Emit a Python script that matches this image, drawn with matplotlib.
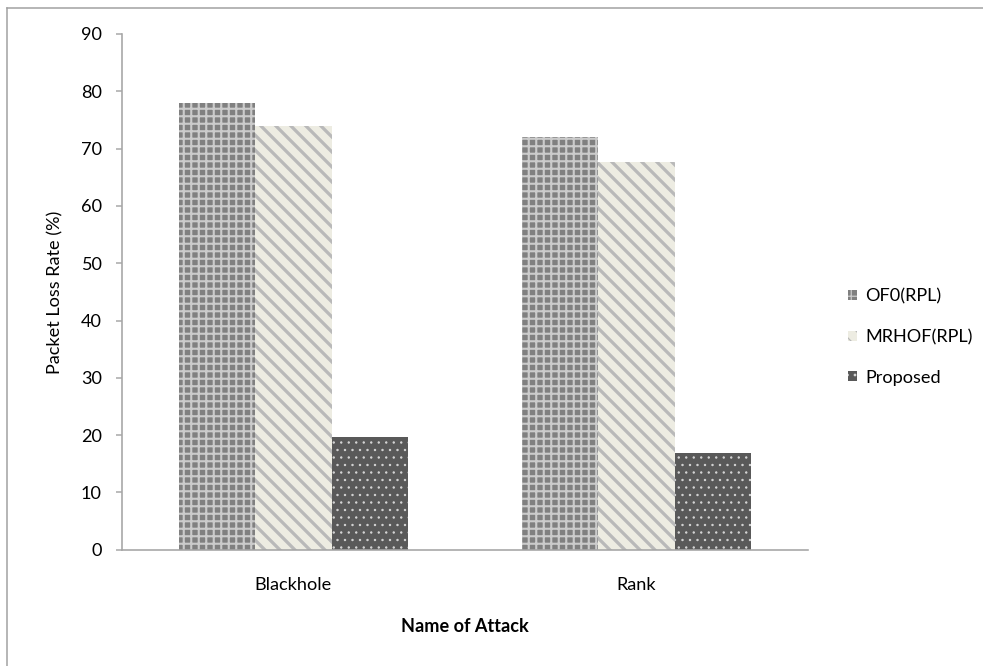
import matplotlib
matplotlib.use("Agg")
import matplotlib.pyplot as plt
import numpy as np
from matplotlib.lines import Line2D

categories = ["Blackhole", "Rank"]
series_names = ["OF0(RPL)", "MRHOF(RPL)", "Proposed"]
of0 = [78, 72]
mrhof = [74, 67.6]
proposed = [19.7, 16.9]
yticks = [0, 10, 20, 30, 40, 50, 60, 70, 80, 90]

plt.rcParams['font.family'] = ['Lato', 'DejaVu Sans']

DPI = 90
W, H = 983, 666
fig = plt.figure(figsize=(W / DPI, H / DPI), dpi=DPI)
fig.patch.set_facecolor('white')

ax_left, ax_right, ax_bottom, ax_top = 122, 808, 549.7, 34
ax = fig.add_axes([ax_left / W, 1 - ax_bottom / H, (ax_right - ax_left) / W,
                   (ax_bottom - ax_top) / H])

styles = [
    dict(facecolor='#808080', hatch='++', hcolor='#cbcbcb', hlw=1.7),
    dict(facecolor='#edece2', hatch='\\\\', hcolor='#b9b9b9', hlw=2.6),
    dict(facecolor='#595959', hatch='..', hcolor='#d6d6d6', hlw=0.7),
]
values = [of0, mrhof, proposed]
x = np.arange(len(categories))
bw = 0.222
handles = []
for i, (vals, st) in enumerate(zip(values, styles)):
    with plt.rc_context({'hatch.linewidth': st['hlw'], 'hatch.color': st['hcolor']}):
        bars = ax.bar(x + (i - 1) * bw, vals, width=bw, facecolor=st['facecolor'],
                      edgecolor=st['hcolor'], hatch=st['hatch'], linewidth=0,
                      label=series_names[i], zorder=2)
    for b in bars:
        if hasattr(b, 'set_hatch_linewidth'):
            b.set_hatch_linewidth(st['hlw'])
    handles.append(bars)

ax.set_xlim(-0.5, 1.5)
ax.set_ylim(0, 90)
ax.set_yticks(yticks)
ax.set_yticklabels([str(v) for v in yticks])
ax.set_xticks(x)
ax.set_xticklabels(categories)

FS = 14.5
for s in ['top', 'right']:
    ax.spines[s].set_visible(False)
for s in ['left', 'bottom']:
    ax.spines[s].set_color('#a6a6a6')
    ax.spines[s].set_linewidth(1.3)
ax.tick_params(axis='y', length=5, width=1.2, color='#a6a6a6', pad=11,
               labelsize=FS, labelcolor='black')
ax.tick_params(axis='x', length=0, pad=21.5, labelsize=FS, labelcolor='black')

ax.set_ylabel("Packet Loss Rate (%)", fontsize=FS, va='center')
ax.yaxis.set_label_coords((55 - ax_left) / (ax_right - ax_left), 0.5)
ax.set_xlabel("Name of Attack", fontsize=FS, fontweight='bold', va='center')
ax.xaxis.set_label_coords(0.5, (ax_bottom - 627) / (ax_bottom - ax_top))

leg = fig.legend(handles=handles, labels=series_names, loc='center left',
                 bbox_to_anchor=(841 / W, 1 - 337 / H), frameon=False,
                 borderaxespad=0, fontsize=FS, handlelength=0.5, handleheight=0.45,
                 handletextpad=0.45, labelspacing=1.36)

# outer chart border (top and left visible)
fig.add_artist(Line2D([7 / W, 1.0], [1 - 8 / H, 1 - 8 / H], transform=fig.transFigure,
                      color='#a0a0a0', linewidth=1.2))
fig.add_artist(Line2D([7 / W, 7 / W], [0.0, 1 - 8 / H], transform=fig.transFigure,
                      color='#a0a0a0', linewidth=1.2))

fig.savefig("out.png", dpi=DPI, facecolor='white')
